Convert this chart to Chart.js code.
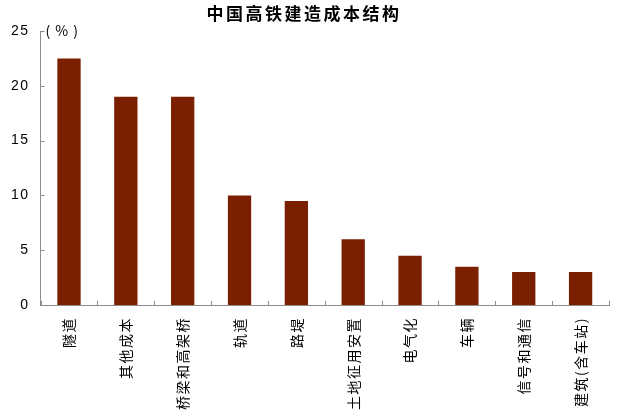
<!DOCTYPE html>
<html>
<head>
<meta charset="utf-8">
<script src="https://cdn.jsdelivr.net/npm/chart.js@4"></script>
<style>
  body { margin: 0; background: #fff; }
  #wrap { width: 622px; height: 416px; }
</style>
</head>
<body>
<div id="wrap"><canvas id="costChart"></canvas></div>
<script>
const categories = ['隧道', '其他成本', '桥梁和高架桥', '轨道', '路堤', '土地征用安置', '电气化', '车辆', '信号和通信', '建筑(含车站)'];
const shares = [22.5, 19, 19, 10, 9.5, 6, 4.5, 3.5, 3, 3];
const yTicks = [0, 5, 10, 15, 20, 25];
const chartTitle = '中国高铁建造成本结构';
const unitLabel = '(%)';

const axisColor = '#8c8c8c';

// letter spacing for the stacked CJK labels (canvas resets it on resize)
const spacing = {
  id: 'spacing',
  beforeLayout(chart) { chart.ctx.letterSpacing = '1.5px'; },
  beforeDraw(chart) { chart.ctx.letterSpacing = '1.5px'; },
};

// inward tick marks, unit label and title
const axisDecor = {
  id: 'axisDecor',
  afterDraw(chart) {
    const { ctx, chartArea, scales } = chart;
    const x = scales.x, y = scales.y;
    ctx.save();
    ctx.strokeStyle = axisColor;
    ctx.lineWidth = 1;
    ctx.beginPath();
    for (let i = 0; i <= categories.length; i++) {
      let px;
      if (i === 0) px = chartArea.left;
      else if (i === categories.length) px = chartArea.right;
      else px = (x.getPixelForValue(i - 1) + x.getPixelForValue(i)) / 2;
      px = Math.round(px) + 0.5;
      ctx.moveTo(px, chartArea.bottom);
      ctx.lineTo(px, chartArea.bottom - 4);
    }
    yTicks.forEach(v => {
      const py = Math.round(y.getPixelForValue(v)) + 0.5;
      ctx.moveTo(chartArea.left, py);
      ctx.lineTo(chartArea.left + 4, py);
    });
    ctx.stroke();

    ctx.fillStyle = '#000';
    ctx.textBaseline = 'middle';
    ctx.letterSpacing = '5px';
    ctx.font = '14px "Noto Sans CJK SC"';
    ctx.fillText(unitLabel, chartArea.left + 5, chartArea.top);

    ctx.letterSpacing = '2.5px';
    ctx.font = 'bold 17px "Noto Sans CJK SC"';
    ctx.textAlign = 'center';
    ctx.fillText(chartTitle, 304, 14);
    ctx.restore();
  }
};

new Chart(document.getElementById('costChart').getContext('2d'), {
  type: 'bar',
  data: {
    labels: categories,
    datasets: [
      {
        label: '成本占比',
        data: shares,
        backgroundColor: '#7a2000',
        barPercentage: 0.41,
        categoryPercentage: 1,
      },
    ],
  },
  options: {
    responsive: true,
    maintainAspectRatio: false,
    animation: false,
    layout: { padding: { top: 31, right: 13, bottom: -6, left: 0 } },
    plugins: {
      legend: { display: false },
      tooltip: { enabled: false },
      title: { display: false },
    },
    scales: {
      x: {
        grid: { display: false, drawTicks: false },
        border: { display: true, color: axisColor },
        ticks: {
          color: '#000',
          font: { family: '"Noto Sans CJK SC"', size: 14 },
          minRotation: 90,
          maxRotation: 90,
          padding: 12,
          autoSkip: false,
        },
      },
      y: {
        min: 0,
        max: 25,
        afterBuildTicks(scale) {
          scale.ticks = yTicks.map(v => ({ value: v }));
        },
        grid: { display: false, drawTicks: false },
        border: { display: true, color: axisColor },
        ticks: {
          color: '#000',
          font: { family: '"Liberation Sans"', size: 14 },
          padding: 11,
        },
      },
    },
  },
  plugins: [spacing, axisDecor],
});
</script>
</body>
</html>
